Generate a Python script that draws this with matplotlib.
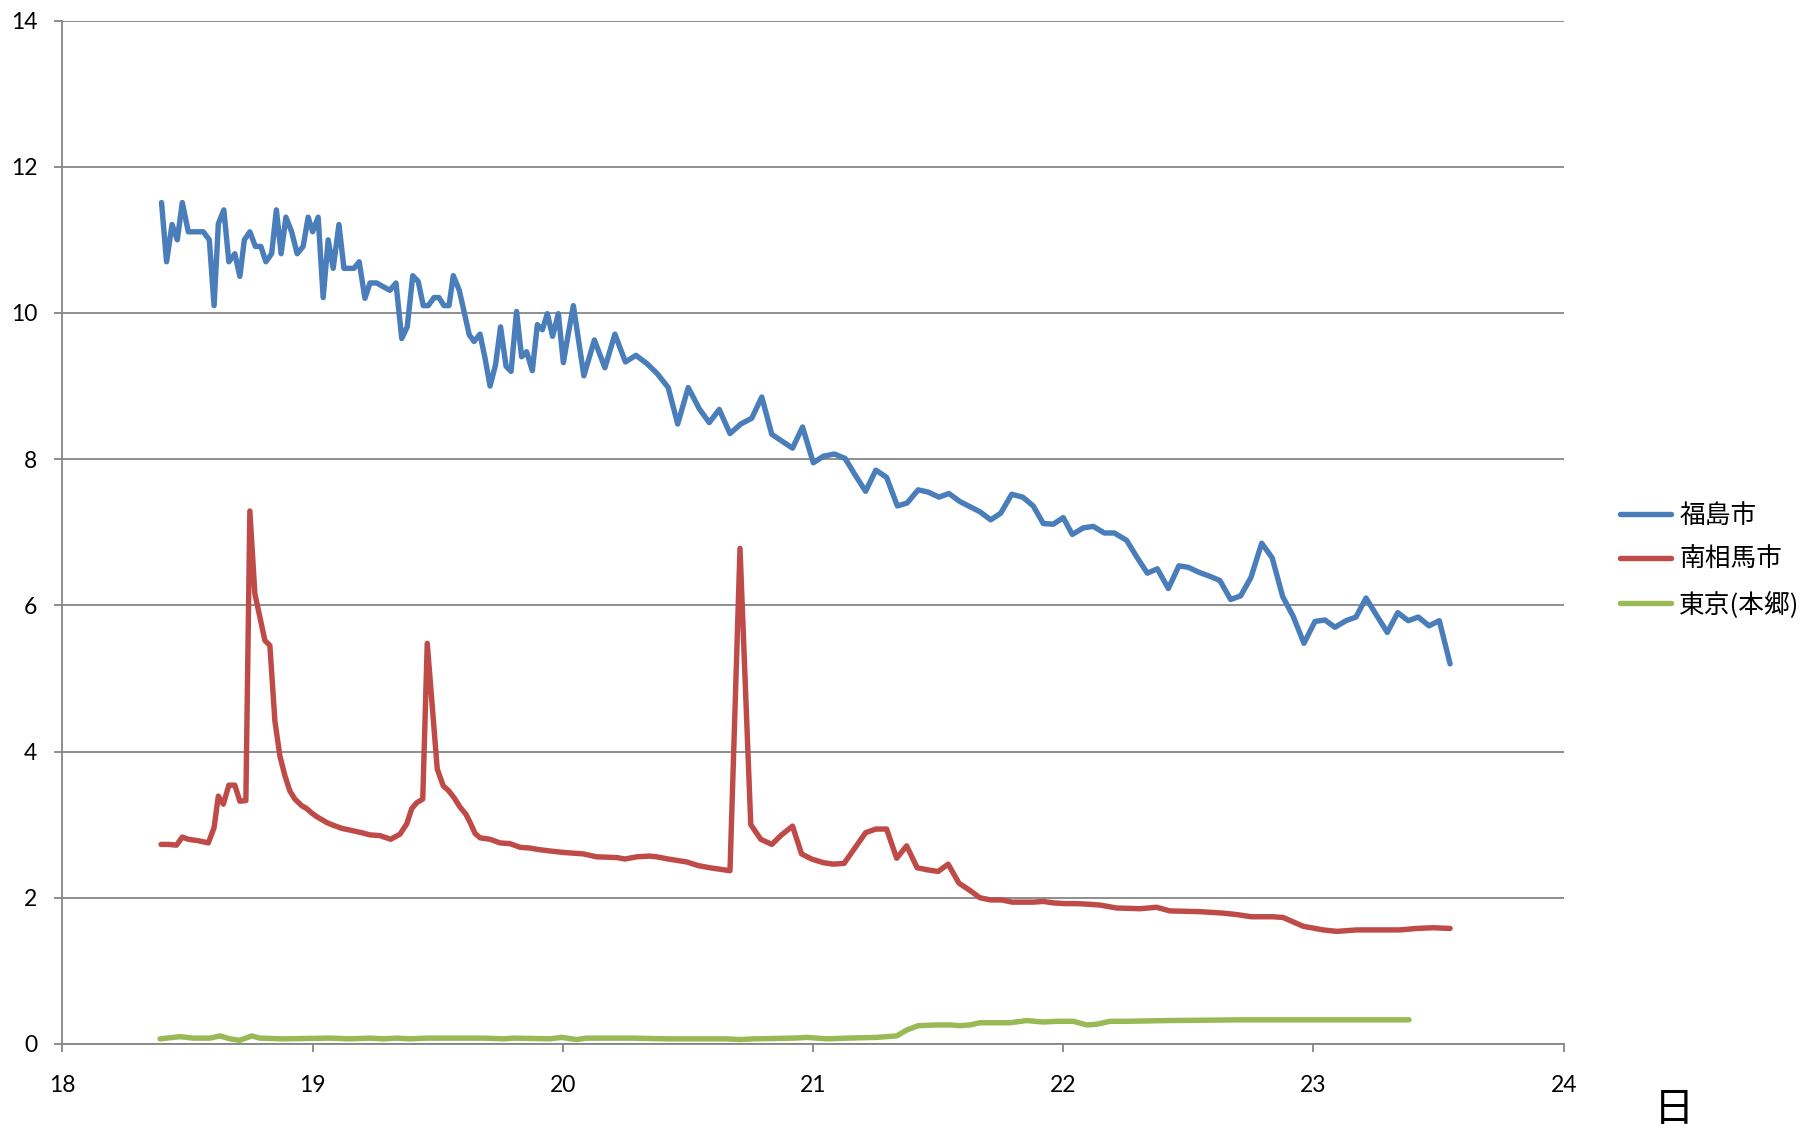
import matplotlib
matplotlib.use("Agg")
import matplotlib.pyplot as plt

plt.rcParams['font.family'] = ['Lato', 'Noto Sans CJK JP', 'DejaVu Sans']

# 福島市
blue_day = [18.396, 18.416, 18.438, 18.459, 18.479, 18.503, 18.533, 18.563, 18.587, 18.606,
            18.623, 18.645, 18.665, 18.689, 18.709, 18.727, 18.749, 18.771, 18.793, 18.813,
            18.836, 18.855, 18.874, 18.893, 18.916, 18.938, 18.962, 18.982, 19.000, 19.022,
            19.042, 19.062, 19.082, 19.105, 19.125, 19.145, 19.165, 19.186, 19.209, 19.229,
            19.256, 19.281, 19.309, 19.333, 19.356, 19.378, 19.400, 19.422, 19.442, 19.462,
            19.485, 19.505, 19.525, 19.545, 19.562, 19.586, 19.626, 19.645, 19.669, 19.689,
            19.709, 19.731, 19.751, 19.773, 19.793, 19.815, 19.835, 19.855, 19.878, 19.898,
            19.918, 19.938, 19.959, 19.982, 20.002, 20.022, 20.042, 20.084, 20.126, 20.168,
            20.208, 20.250, 20.292, 20.335, 20.377, 20.421, 20.459, 20.501, 20.545, 20.585,
            20.625, 20.668, 20.711, 20.755, 20.795, 20.835, 20.874, 20.918, 20.958, 21.001,
            21.041, 21.085, 21.128, 21.167, 21.210, 21.251, 21.294, 21.337, 21.376, 21.420,
            21.460, 21.503, 21.543, 21.587, 21.627, 21.667, 21.710, 21.750, 21.794, 21.838,
            21.880, 21.920, 21.960, 22.000, 22.036, 22.080, 22.120, 22.164, 22.204, 22.253,
            22.296, 22.336, 22.376, 22.420, 22.462, 22.500, 22.544, 22.584, 22.626, 22.669,
            22.709, 22.750, 22.793, 22.835, 22.877, 22.919, 22.962, 23.006, 23.046, 23.086,
            23.130, 23.170, 23.210, 23.253, 23.295, 23.337, 23.379, 23.419, 23.462, 23.503,
            23.546]
blue_val = [11.51, 10.70, 11.21, 11.00, 11.51, 11.11, 11.11, 11.11, 11.00, 10.10,
            11.22, 11.41, 10.70, 10.81, 10.50, 11.00, 11.11, 10.91, 10.91, 10.70,
            10.81, 11.41, 10.81, 11.31, 11.11, 10.81, 10.91, 11.31, 11.11, 11.31,
            10.21, 11.00, 10.61, 11.21, 10.61, 10.61, 10.61, 10.70, 10.20, 10.41,
            10.41, 10.36, 10.31, 10.41, 9.65, 9.81, 10.51, 10.43, 10.10, 10.10,
            10.21, 10.21, 10.10, 10.10, 10.51, 10.31, 9.70, 9.61, 9.71, 9.38,
            9.00, 9.29, 9.81, 9.27, 9.20, 10.02, 9.40, 9.47, 9.21, 9.84,
            9.77, 9.99, 9.68, 9.99, 9.32, 9.72, 10.10, 9.14, 9.63, 9.25,
            9.71, 9.33, 9.42, 9.31, 9.17, 8.98, 8.48, 8.98, 8.69, 8.50,
            8.68, 8.35, 8.48, 8.56, 8.85, 8.34, 8.25, 8.15, 8.44, 7.95,
            8.04, 8.07, 8.01, 7.79, 7.56, 7.85, 7.75, 7.36, 7.40, 7.58,
            7.55, 7.48, 7.53, 7.42, 7.35, 7.28, 7.17, 7.26, 7.52, 7.48,
            7.36, 7.12, 7.11, 7.20, 6.97, 7.06, 7.08, 6.99, 6.99, 6.89,
            6.65, 6.44, 6.50, 6.23, 6.54, 6.52, 6.45, 6.40, 6.34, 6.08,
            6.13, 6.38, 6.85, 6.65, 6.12, 5.85, 5.48, 5.78, 5.80, 5.70,
            5.79, 5.84, 6.10, 5.86, 5.63, 5.90, 5.79, 5.84, 5.72, 5.79,
            5.20]

# 南相馬市
red_day = [18.394, 18.423, 18.456, 18.479, 18.503, 18.543, 18.583, 18.606, 18.623, 18.643,
           18.665, 18.689, 18.709, 18.733, 18.749, 18.769, 18.789, 18.809, 18.829, 18.849,
           18.869, 18.889, 18.909, 18.929, 18.956, 18.976, 18.996, 19.016, 19.036, 19.056,
           19.076, 19.116, 19.156, 19.196, 19.229, 19.269, 19.312, 19.349, 19.376, 19.396,
           19.416, 19.440, 19.458, 19.498, 19.522, 19.542, 19.565, 19.589, 19.613, 19.632,
           19.649, 19.669, 19.709, 19.749, 19.789, 19.829, 19.868, 19.902, 19.948, 20.002,
           20.082, 20.135, 20.215, 20.248, 20.295, 20.348, 20.375, 20.421, 20.495, 20.541,
           20.588, 20.668, 20.708, 20.751, 20.791, 20.835, 20.874, 20.918, 20.954, 20.994,
           21.041, 21.081, 21.124, 21.167, 21.210, 21.251, 21.294, 21.334, 21.374, 21.416,
           21.460, 21.500, 21.540, 21.583, 21.627, 21.667, 21.710, 21.754, 21.796, 21.840,
           21.880, 21.920, 21.960, 22.007, 22.054, 22.107, 22.147, 22.213, 22.307, 22.373,
           22.426, 22.546, 22.639, 22.693, 22.753, 22.839, 22.879, 22.959, 23.039, 23.093,
           23.173, 23.266, 23.346, 23.412, 23.479, 23.546]
red_val = [2.73, 2.73, 2.72, 2.83, 2.80, 2.78, 2.75, 2.96, 3.39, 3.28,
           3.54, 3.54, 3.32, 3.33, 7.29, 6.16, 5.84, 5.52, 5.45, 4.42,
           3.94, 3.67, 3.46, 3.35, 3.26, 3.22, 3.16, 3.11, 3.07, 3.03,
           3.00, 2.95, 2.92, 2.89, 2.86, 2.85, 2.80, 2.87, 3.01, 3.22,
           3.30, 3.35, 5.48, 3.76, 3.53, 3.47, 3.37, 3.24, 3.14, 3.01,
           2.88, 2.82, 2.80, 2.75, 2.74, 2.69, 2.68, 2.66, 2.64, 2.62,
           2.60, 2.56, 2.55, 2.53, 2.56, 2.57, 2.56, 2.53, 2.49, 2.44,
           2.41, 2.37, 6.78, 3.00, 2.80, 2.73, 2.86, 2.98, 2.60, 2.53,
           2.48, 2.46, 2.47, 2.68, 2.89, 2.94, 2.94, 2.54, 2.71, 2.41,
           2.38, 2.36, 2.46, 2.20, 2.10, 2.00, 1.97, 1.97, 1.94, 1.94,
           1.94, 1.95, 1.93, 1.92, 1.92, 1.91, 1.90, 1.86, 1.85, 1.87,
           1.82, 1.81, 1.79, 1.77, 1.74, 1.74, 1.73, 1.61, 1.56, 1.54,
           1.56, 1.56, 1.56, 1.58, 1.59, 1.58]

# 東京(本郷)
green_day = [18.390, 18.470, 18.523, 18.590, 18.629, 18.669, 18.709, 18.756, 18.789, 18.882,
             19.069, 19.149, 19.229, 19.282, 19.336, 19.389, 19.456, 19.682, 19.762, 19.802,
             19.948, 19.995, 20.055, 20.095, 20.268, 20.428, 20.655, 20.708, 20.761, 20.921,
             20.974, 21.054, 21.134, 21.254, 21.334, 21.374, 21.420, 21.494, 21.547, 21.587,
             21.627, 21.667, 21.787, 21.854, 21.920, 21.974, 22.040, 22.094, 22.134, 22.187,
             22.253, 22.413, 22.706, 22.946, 23.382]
green_val = [0.07, 0.10, 0.08, 0.08, 0.11, 0.07, 0.05, 0.11, 0.08, 0.07,
             0.08, 0.07, 0.08, 0.07, 0.08, 0.07, 0.08, 0.08, 0.07, 0.08,
             0.07, 0.09, 0.06, 0.08, 0.08, 0.07, 0.07, 0.06, 0.07, 0.08,
             0.09, 0.07, 0.08, 0.09, 0.11, 0.19, 0.25, 0.26, 0.26, 0.25,
             0.26, 0.29, 0.29, 0.32, 0.30, 0.31, 0.31, 0.26, 0.27, 0.31,
             0.31, 0.32, 0.33, 0.33, 0.33]

labels = ['福島市', '南相馬市', '東京(本郷)']
colors = ['#4A7EBB', '#BE4B48', '#98B954']

fig = plt.figure(figsize=(18, 11.28), dpi=100)
ax = fig.add_axes([0.0347, 0.0745, 0.834, 0.9073])

grid_c = '#868686'
for d, v, lab, c in zip([blue_day, red_day, green_day], [blue_val, red_val, green_val], labels, colors):
    ax.plot(d, v, color=c, lw=3.9, label=lab, solid_joinstyle='round', solid_capstyle='round')

ax.set_xlim(18, 24)
ax.set_ylim(0, 14)
ax.set_xticks(range(18, 25))
ax.set_yticks(range(0, 15, 2))
ax.yaxis.grid(True, color=grid_c, lw=1.3)
ax.set_axisbelow(True)
for s in ['top', 'right']:
    ax.spines[s].set_visible(False)
for s in ['left', 'bottom']:
    ax.spines[s].set_color(grid_c)
    ax.spines[s].set_linewidth(1.3)
ax.tick_params(axis='both', colors=grid_c, length=6, width=1.3, labelcolor='black', labelsize=16.5)
ax.tick_params(axis='x', pad=16)
ax.tick_params(axis='y', pad=12)

fig.text(0.93, 0.016, '日', fontsize=29, ha='center', va='center', family=['Noto Sans CJK JP'])

ax.legend(loc='center left', bbox_to_anchor=(0.9, 0.503), bbox_transform=fig.transFigure,
          frameon=False, handlelength=2.0, handletextpad=0.3, labelspacing=0.7,
          borderpad=0, borderaxespad=0, prop={'family': ['Noto Sans CJK JP'], 'size': 18.5})

fig.savefig('out.png', dpi=100)
